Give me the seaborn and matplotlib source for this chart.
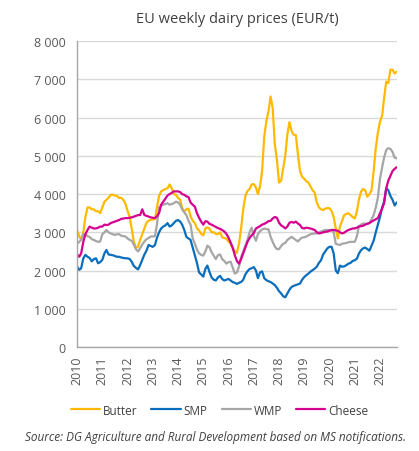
import numpy as np
import pandas as pd
import seaborn as sns
import matplotlib.pyplot as plt
import matplotlib.ticker as mticker

# monthly values, Jan 2010 .. Sep 2022 (EUR/t)
butter = [
    3050, 2900, 2800, 3000, 3400, 3650, 3650, 3600, 3600, 3550, 3550, 3500,
    3650, 3800, 3850, 3900, 3980, 3980, 3960, 3950, 3900, 3900, 3850, 3750,
    3560, 3400, 3100, 2750, 2600, 2620, 2800, 2950, 3100, 3250, 3300, 3330,
    3330, 3350, 3650, 3950, 4070, 4100, 4130, 4150, 4250, 4150, 4000, 3980,
    3900, 3850, 3640, 3540, 3600, 3620, 3420, 3300, 3240, 3100, 3050, 2960,
    2920, 3100, 3130, 3090, 3000, 3000, 2960, 2950, 3000, 2870, 2850, 2830,
    2760, 2700, 2580, 2500, 2460, 2700, 3100, 3600, 3950, 4080, 4130, 4250,
    4260, 4170, 4000, 4200, 4600, 5500, 5900, 6160, 6550, 6250, 5300, 4900,
    4300, 4350, 4660, 5000, 5550, 5880, 5650, 5550, 5540, 5050, 4600, 4450,
    4400, 4330, 4300, 4200, 4100, 4040, 3780, 3650, 3600, 3580, 3620, 3630,
    3630, 3550, 3400, 3100, 2840, 3150, 3300, 3450, 3480, 3500, 3450, 3400,
    3360, 3550, 3850, 4060, 4130, 4100, 3930, 4000, 4100, 4600, 5200, 5600,
    5890, 6050, 6500, 6940, 6900, 7250, 7250, 7150, 7200,
]
smp = [
    2100, 2020, 2060, 2320, 2410, 2360, 2330, 2240, 2300, 2320, 2190, 2220,
    2280, 2450, 2540, 2420, 2410, 2400, 2380, 2360, 2360, 2340, 2330, 2320,
    2320, 2300, 2230, 2120, 2070, 2030, 2140, 2280, 2420, 2520, 2670, 2640,
    2620, 2670, 2850, 3000, 3100, 3150, 3180, 3240, 3150, 3180, 3240, 3300,
    3320, 3280, 3200, 3060, 2880, 2840, 2800, 2600, 2410, 2200, 1950, 1900,
    1840, 2050, 2130, 1960, 1820, 1760, 1740, 1820, 1860, 1780, 1740, 1760,
    1780, 1740, 1700, 1680, 1650, 1680, 1700, 1760, 1900, 1980, 2040, 2060,
    2090, 2000, 1800, 1950, 1980, 1800, 1750, 1720, 1700, 1660, 1620, 1550,
    1460, 1400, 1330, 1300, 1400, 1500, 1570, 1600, 1620, 1640, 1660, 1760,
    1830, 1880, 1920, 1970, 2010, 2050, 2100, 2200, 2270, 2420, 2500, 2580,
    2620, 2620, 2450, 2000, 1930, 2130, 2100, 2110, 2140, 2180, 2200, 2250,
    2270, 2310, 2440, 2530, 2580, 2600, 2560, 2520, 2650, 2780, 3000, 3200,
    3400, 3650, 3800, 4150, 4100, 3950, 3850, 3700, 3780,
]
wmp = [
    2700, 2750, 2800, 2950, 2950, 2900, 2880, 2820, 2800, 2770, 2750, 2760,
    2950, 3000, 3060, 3000, 2970, 2950, 2930, 2950, 2950, 2910, 2900, 2890,
    2840, 2800, 2780, 2680, 2560, 2500, 2580, 2680, 2760, 2820, 2850, 2890,
    2890, 2900, 3200, 3650, 3700, 3720, 3740, 3760, 3720, 3740, 3760, 3800,
    3780, 3720, 3600, 3520, 3450, 3300, 3200, 2840, 2700, 2550, 2450, 2410,
    2390, 2500, 2650, 2610, 2480, 2390, 2300, 2400, 2420, 2300, 2250, 2180,
    2220, 2230, 2080, 1920, 1950, 2100, 2350, 2500, 2650, 2800, 3000, 3120,
    2900, 2780, 2950, 3030, 3070, 3100, 3080, 3080, 2880, 2750, 2630, 2560,
    2560, 2640, 2700, 2720, 2800, 2840, 2880, 2840, 2800, 2760, 2820, 2860,
    2870, 2890, 2920, 2950, 2960, 2970, 2970, 3000, 3020, 3040, 3060, 3060,
    3060, 3060, 3000, 2700, 2680, 2670, 2700, 2710, 2720, 2740, 2750, 2750,
    2750, 2900, 3150, 3200, 3230, 3220, 3230, 3250, 3340, 3450, 3650, 3900,
    4400, 4700, 4950, 5150, 5200, 5180, 5100, 4950, 4930,
]
cheese = [
    2420, 2360, 2450, 2750, 2950, 3060, 3150, 3120, 3100, 3100, 3120, 3150,
    3150, 3200, 3190, 3200, 3240, 3260, 3280, 3300, 3320, 3350, 3360, 3370,
    3370, 3380, 3390, 3410, 3430, 3450, 3450, 3600, 3450, 3430, 3410, 3390,
    3380, 3370, 3420, 3500, 3720, 3800, 3880, 3960, 4000, 4030, 4070, 4070,
    4070, 4050, 4000, 3980, 3940, 3920, 3780, 3720, 3670, 3500, 3380, 3280,
    3200, 3290, 3280, 3220, 3200, 3170, 3140, 3110, 3090, 3060, 3020, 2960,
    2860, 2730, 2600, 2400, 2250, 2180, 2300, 2450, 2600, 2750, 2850, 2920,
    2980, 3100, 3130, 3160, 3200, 3220, 3250, 3290, 3300, 3360, 3400, 3380,
    3250, 3180, 3150, 3100, 3150, 3250, 3270, 3250, 3280, 3230, 3190, 3110,
    3100, 3120, 3110, 3100, 3080, 3060, 3000, 2970, 2980, 3000, 3010, 3020,
    3040, 3060, 3060, 3050, 3040, 3000, 2970, 2990, 3030, 3060, 3080, 3100,
    3100, 3120, 3150, 3160, 3170, 3200, 3220, 3240, 3280, 3310, 3340, 3370,
    3500, 3620, 3760, 4150, 4350, 4480, 4600, 4660, 4700,
]
products = ["Butter", "SMP", "WMP", "Cheese"]
colors = ["#FFBA00", "#0A6EBD", "#A6A6A6", "#D5008F"]
years = list(range(2010, 2023))

dates = pd.date_range("2010-01-01", periods=len(butter), freq="MS")
df = pd.DataFrame({"date": dates, "Butter": butter, "SMP": smp,
                   "WMP": wmp, "Cheese": cheese})
long = df.melt(id_vars="date", var_name="product", value_name="price")

sns.set_theme(style="white")
plt.rcParams["font.family"] = ["Open Sans", "DejaVu Sans"]

fig = plt.figure(figsize=(4.19, 4.52), dpi=100)
ax = fig.add_axes([0.184, 0.230, 0.763, 0.677])

sns.lineplot(data=long, x="date", y="price", hue="product",
             hue_order=products, palette=colors, linewidth=1.6, ax=ax)

ax.set_ylim(0, 8000)
ax.set_xlim(dates[0], dates[-1])
ax.yaxis.set_major_locator(mticker.MultipleLocator(1000))
ax.yaxis.set_major_formatter(mticker.FuncFormatter(
    lambda v, p: f"{int(v):,}".replace(",", " ")))
ax.set_xticks(pd.to_datetime([f"{y}-01-01" for y in years]))
ax.set_xticklabels([str(y) for y in years], rotation=90)
ax.grid(axis="y", color="#D9D9D9", linewidth=1)
ax.set_axisbelow(True)

for s in ["top", "right"]:
    ax.spines[s].set_visible(False)
for s in ["left", "bottom"]:
    ax.spines[s].set_color("#A6A6A6")
    ax.spines[s].set_linewidth(1)
ax.tick_params(axis="both", length=4, width=1, color="#A6A6A6",
               labelsize=9, labelcolor="#595959", pad=2)
ax.tick_params(axis="y", pad=4)
ax.set_xlabel("")
ax.set_ylabel("")

ax.set_title("EU weekly dairy prices (EUR/t)", fontsize=10.5,
             color="#404040", pad=14)

ax.legend(loc="upper center", bbox_to_anchor=(0.445, -0.15), ncol=4,
          frameon=False, fontsize=8.5, handlelength=2.5, handletextpad=0.2,
          columnspacing=1.2, labelcolor="#404040")

fig.text(0.97, 0.025,
         "Source: DG Agriculture and Rural Development based on MS notifications.",
         ha="right", fontsize=8.5, style="italic", color="#404040")

fig.savefig("out.png", dpi=100)
